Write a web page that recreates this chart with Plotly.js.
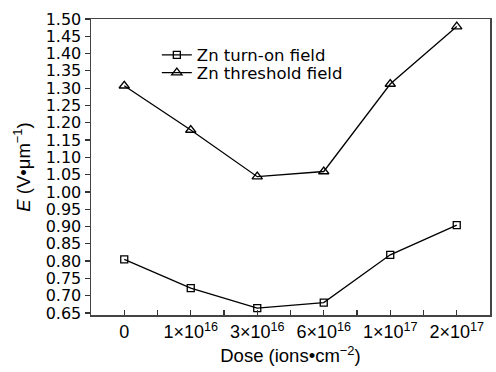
<!DOCTYPE html>
<html><head><meta charset="utf-8">
<script src="https://cdn.plot.ly/plotly-3.0.1.min.js"></script>
<style>html,body{margin:0;padding:0;background:#fff}#c{width:496px;height:372px}</style>
</head><body><div id="c"></div>
<script>
const doseLabels = ["0","1×10<sup>16</sup>","3×10<sup>16</sup>","6×10<sup>16</sup>","1×10<sup>17</sup>","2×10<sup>17</sup>"];
const turnOn = [0.805, 0.722, 0.664, 0.680, 0.818, 0.904];
const threshold = [1.307, 1.179, 1.044, 1.059, 1.312, 1.478];
const yTicks = [0.65,0.70,0.75,0.80,0.85,0.90,0.95,1.00,1.05,1.10,1.15,1.20,1.25,1.30,1.35,1.40,1.45,1.50];

const xIdx = doseLabels.map((_, i) => i);
const font = "Liberation Sans, Arial, sans-serif";

const traces = [
  {x: xIdx, y: turnOn, name: "Zn turn-on field", mode: "lines+markers", legend: "legend",
   line: {color: "#000", width: 1.3},
   marker: {symbol: "square-open", size: 7, color: "#000", line: {width: 1.3}}},
  {x: xIdx, y: threshold, name: "Zn threshold field", mode: "lines+markers", legend: "legend2",
   line: {color: "#000", width: 1.3},
   marker: {symbol: "triangle-up-open", size: 9, color: "#000", line: {width: 1.3}}}
];

const legFont = {size: 16.5, family: "DejaVu Sans, sans-serif", color: "#000"};
const layout = {
  width: 496, height: 372,
  margin: {l: 91, r: 6, t: 19, b: 57},
  paper_bgcolor: "#fff", plot_bgcolor: "#fff",
  font: {family: font, color: "#000", size: 18},
  showlegend: true,
  legend: {x: 0.165, y: 0.878, xanchor: "left", yanchor: "middle", bgcolor: "rgba(0,0,0,0)",
           font: legFont, itemwidth: 30},
  legend2: {x: 0.165, y: 0.818, xanchor: "left", yanchor: "middle", bgcolor: "rgba(0,0,0,0)",
           font: legFont, itemwidth: 30},
  xaxis: {
    range: [-0.5, 5.5], tickmode: "array", tickvals: xIdx, ticktext: doseLabels,
    ticks: "inside", ticklen: 5, tickcolor: "#333", tickwidth: 1.2,
    minor: {tickmode: "linear", tick0: -0.5, dtick: 1, ticks: "inside", ticklen: 5, tickcolor: "#333"},
    showline: true, linecolor: "#444", linewidth: 1.5, mirror: true,
    showgrid: false, zeroline: false,
    tickfont: {size: 18, family: font},
    title: {text: "Dose (ions•cm<sup>−2</sup>)", font: {size: 18.5, family: font}, standoff: 8}
  },
  yaxis: {
    range: [0.644, 1.50], tickmode: "array", tickvals: yTicks,
    ticktext: yTicks.map(v => v.toFixed(2)),
    ticks: "outside", ticklen: 5, tickcolor: "#333", tickwidth: 1.2,
    showline: true, linecolor: "#444", linewidth: 1.5, mirror: true,
    showgrid: false, zeroline: false,
    tickfont: {size: 16, family: "DejaVu Sans, sans-serif"},
    title: {text: "<i>E</i> (V•μm<sup>−1</sup>)", font: {size: 18.5, family: font}, standoff: 10}
  }
};
Plotly.newPlot("c", traces, layout, {displayModeBar: false, staticPlot: true});
</script></body></html>
